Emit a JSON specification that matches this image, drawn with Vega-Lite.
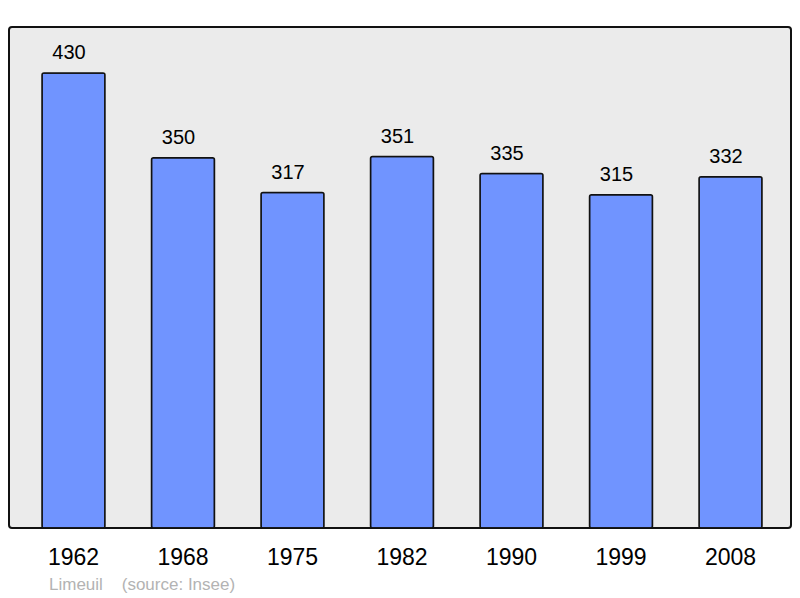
{
  "$schema": "https://vega.github.io/schema/vega-lite/v6.json",
  "width": 782,
  "height": 501,
  "autosize": {"type": "none"},
  "padding": {"left": 9, "top": 27, "right": 9, "bottom": 70},
  "background": "white",
  "config": {
    "font": "Liberation Sans",
    "view": {"fill": "#ebebeb", "stroke": "#111111", "strokeWidth": 2, "cornerRadius": 3}
  },
  "title": {
    "text": "Limeuil\u00a0\u00a0\u00a0\u00a0(source: Insee)",
    "orient": "bottom",
    "anchor": "start",
    "dx": 40,
    "offset": 8,
    "fontSize": 17,
    "fontWeight": "normal",
    "color": "#b3b3b3"
  },
  "data": {
    "values": [
      {"year": "1962", "pop": 430},
      {"year": "1968", "pop": 350},
      {"year": "1975", "pop": 317},
      {"year": "1982", "pop": 351},
      {"year": "1990", "pop": 335},
      {"year": "1999", "pop": 315},
      {"year": "2008", "pop": 332}
    ]
  },
  "encoding": {
    "x": {
      "field": "year",
      "type": "ordinal",
      "scale": {"range": [33, 753], "paddingInner": 0.425, "paddingOuter": 0},
      "axis": {
        "title": null,
        "domain": false,
        "ticks": false,
        "labelAngle": 0,
        "labelFontSize": 23,
        "labelColor": "#000000",
        "labelPadding": 18
      }
    },
    "y": {
      "field": "pop",
      "type": "quantitative",
      "scale": {"domain": [0, 473.5], "nice": false},
      "axis": null
    }
  },
  "layer": [
    {
      "mark": {"type": "bar", "fill": "#7094ff", "stroke": "#111111", "strokeWidth": 1.5, "cornerRadius": 2}
    },
    {
      "mark": {"type": "text", "baseline": "bottom", "dy": -10, "dx": -4.5, "fontSize": 20, "color": "#000000"},
      "encoding": {"text": {"field": "pop", "type": "quantitative"}}
    }
  ]
}
